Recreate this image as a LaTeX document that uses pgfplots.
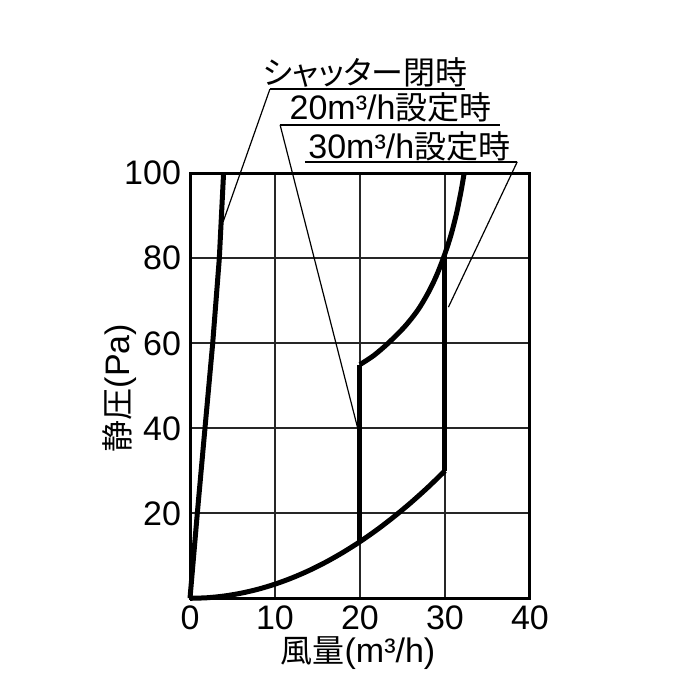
\documentclass[border=0pt]{standalone}
\usepackage{fontspec}
\setmainfont{Liberation Sans}
\newfontfamily\jp{Noto Sans CJK JP}
\newfontfamily\jpp{Noto Sans CJK JP}[RawFeature=+palt]
\usepackage{pgfplots}
\pgfplotsset{compat=1.18}
\begin{document}
\begin{tikzpicture}
\useasboundingbox (-95pt,-50.85pt) rectangle (255pt,299.15pt);
\begin{axis}[
    at={(0,0)}, anchor=south west,
    width=170pt, height=212.5pt, scale only axis,
    xmin=0, xmax=40, ymin=0, ymax=100,
    xtick={0,10,20,30,40}, ytick={20,40,60,80,100},
    grid=major,
    major grid style={black!85, line width=0.9pt},
    axis line style={line width=1.5pt},
    tick style={draw=none},
    tick label style={font=\fontsize{17}{17}\selectfont},
    /pgf/number format/assume math mode=true,
    xticklabel style={yshift=0pt},
    yticklabel style={xshift=-1pt},
    xlabel={{\jp\fontsize{16}{16}\selectfont 風量}{\fontsize{17}{17}\selectfont (m³/h)}},
    ylabel={{\jp\fontsize{16}{16}\selectfont 静圧}{\fontsize{17}{17}\selectfont (Pa)}},
    xlabel style={at={(axis description cs:0.494,-0.13)}, anchor=center},
    ylabel style={at={(axis description cs:-0.206,0.495)}, anchor=center, rotate=0},
    clip=false,
]
% lower curve (common)
\addplot[black, line width=2.5pt, smooth] coordinates {
    (0,0) (2,0.13) (4,0.53) (6,1.2) (8,2.13) (10,3.33) (12,4.8) (14,6.53)
    (16,8.53) (18,10.8) (20,13.33) (22,16.13) (24,19.2) (26,22.53) (28,26.13) (30,30)
};
% 20 m3/h setting: vertical part
\addplot[black, line width=2.5pt] coordinates {
    (20,13.33) (20,55)
};
% 20 m3/h setting: upper curve
\addplot[black, line width=2.5pt, smooth] coordinates {
    (20,55) (21.6,57.1) (23.3,60) (25.25,63.9) (26.8,67.8) (28.0,71.8)
    (28.95,75.7) (29.8,80) (30.65,85.1) (31.35,90.5) (31.9,95.9) (32.25,100)
};
% 30 m3/h setting
\addplot[black, line width=2.5pt] coordinates {
    (30,30) (30,81)
};
% shutter closed
\addplot[black, line width=2.5pt] coordinates {
    (0,0) (0.86,20) (1.76,40) (2.67,60) (3.45,80) (3.95,100)
};
% leader lines and labels
\draw[line width=0.9pt] (axis cs:9.4,119.8) -- (axis cs:32.4,119.8);
\draw[line width=0.6pt] (axis cs:9.4,119.8) -- (axis cs:3.9,88.6);
\node at (axis cs:20.6,123.8) {\jpp\fontsize{16}{16}\selectfont シャッター閉時};
\draw[line width=0.9pt] (axis cs:10.6,111.4) -- (axis cs:36.5,111.4);
\draw[line width=0.6pt] (axis cs:10.6,111.4) -- (axis cs:19.9,38.7);
\node at (axis cs:23.6,115.4) {{\fontsize{17}{17}\selectfont 20m³/h}{\jp\fontsize{16}{16}\selectfont 設定時}};
\draw[line width=0.9pt] (axis cs:13.5,102.7) -- (axis cs:38.5,102.7);
\draw[line width=0.6pt] (axis cs:38.5,102.7) -- (axis cs:30.4,68.5);
\node at (axis cs:25.8,106.4) {{\fontsize{17}{17}\selectfont 30m³/h}{\jp\fontsize{16}{16}\selectfont 設定時}};
\end{axis}
\end{tikzpicture}
\end{document}
